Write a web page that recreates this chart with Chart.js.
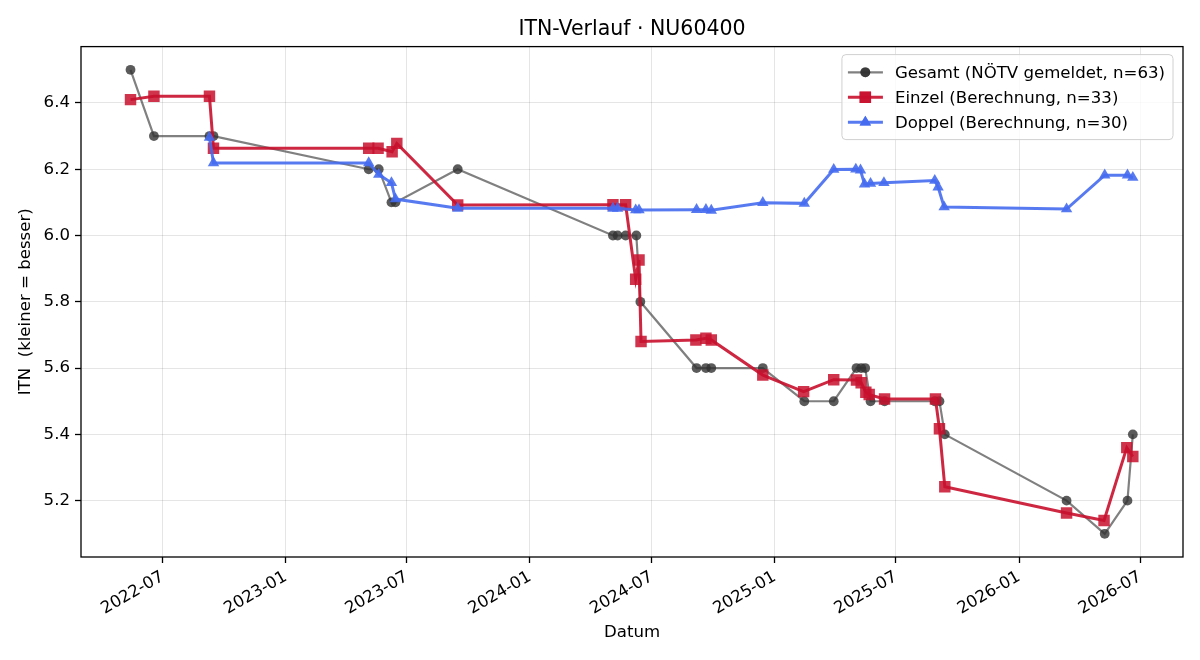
<!DOCTYPE html>
<html><head><meta charset="utf-8">
<script src="https://cdn.jsdelivr.net/npm/chart.js@4.4.1/dist/chart.umd.min.js"></script>
<style>html,body{margin:0;padding:0;background:#fff}</style>
</head><body>
<canvas id="c" width="1200" height="660"></canvas>
<script>
// ---------- data ----------
const chartTitle = 'ITN-Verlauf · NU60400';
const xAxisTitle = 'Datum';
const yAxisTitle = 'ITN  (kleiner = besser)';
const seriesNames = ['Gesamt (NÖTV gemeldet, n=63)', 'Einzel (Berechnung, n=33)', 'Doppel (Berechnung, n=30)'];
const xTickLabels = ['2022-07','2023-01','2023-07','2024-01','2024-07','2025-01','2025-07','2026-01','2026-07'];
const yTickValues = [5.2, 5.4, 5.6, 5.8, 6.0, 6.2, 6.4];
const xRange = ['2022-03-01', '2026-09-03'];
const yRange = [5.03, 6.57];

const gesamtDates = ['2022-05-14','2022-06-18','2022-09-09','2022-09-15','2023-05-05','2023-05-20','2023-06-08','2023-06-14','2023-09-15',
  '2024-05-04','2024-05-11','2024-05-23','2024-06-08','2024-06-14','2024-09-06','2024-09-20','2024-09-28','2024-12-14',
  '2025-02-14','2025-03-30','2025-05-03','2025-05-10','2025-05-16','2025-05-24','2025-06-14','2025-08-28','2025-09-04','2025-09-12',
  '2026-03-13','2026-05-09','2026-06-12','2026-06-20'];
const gesamtValues = [6.5,6.3,6.3,6.3,6.2,6.2,6.1,6.1,6.2,
  6.0,6.0,6.0,6.0,5.8,5.6,5.6,5.6,5.6,
  5.5,5.5,5.6,5.6,5.6,5.5,5.5,5.5,5.5,5.4,
  5.2,5.1,5.2,5.4];

const einzelDates = ['2022-05-14','2022-06-18','2022-09-09','2022-09-15','2023-05-05','2023-05-19','2023-06-09','2023-06-16','2023-09-15',
  '2024-05-04','2024-05-23','2024-06-07','2024-06-12','2024-06-15','2024-09-05','2024-09-20','2024-09-28','2024-12-14',
  '2025-02-13','2025-03-30','2025-05-03','2025-05-10','2025-05-17','2025-05-22','2025-06-14','2025-08-29','2025-09-04','2025-09-12',
  '2026-03-13','2026-05-08','2026-06-11','2026-06-20'];
const einzelValues = [6.41,6.42,6.42,6.263,6.263,6.263,6.253,6.278,6.092,
  6.093,6.093,5.868,5.926,5.68,5.685,5.69,5.685,5.579,
  5.529,5.565,5.564,5.556,5.527,5.52,5.507,5.507,5.417,5.242,
  5.163,5.14,5.36,5.333];

const doppelDates = ['2022-09-09','2022-09-15','2023-05-05','2023-05-20','2023-06-08','2023-06-14','2023-09-15',
  '2024-05-04','2024-05-11','2024-06-07','2024-06-12','2024-09-06','2024-09-20','2024-09-28','2024-12-14',
  '2025-02-14','2025-03-30','2025-05-02','2025-05-09','2025-05-15','2025-05-24','2025-06-13','2025-08-28','2025-09-02','2025-09-11',
  '2026-03-13','2026-05-09','2026-06-12','2026-06-20'];
const doppelValues = [6.296,6.219,6.219,6.184,6.159,6.11,6.082,
  6.082,6.082,6.077,6.077,6.078,6.078,6.076,6.099,
  6.097,6.199,6.2,6.197,6.155,6.157,6.159,6.166,6.146,6.086,
  6.08,6.182,6.182,6.175];

// ---------- helpers ----------
const toTime = s => Date.parse(s + 'T00:00:00Z');
const toPoints = (ds, vs) => ds.map((d, i) => ({x: toTime(d), y: vs[i]}));
const xTickValues = xTickLabels.map(s => { const [y, m] = s.split('-').map(Number); return Date.UTC(y, m - 1, 1); });

const FONT = 'DejaVu Sans';
const FS = 16.6;
Chart.defaults.font.family = FONT;
Chart.defaults.font.size = FS;
Chart.defaults.color = '#000';

const styles = [
  {line: 'rgba(60,60,60,0.65)', point: 'rgba(50,50,50,0.8)', width: 2.2, style: 'circle', radius: 4.9},
  {line: 'rgba(200,16,46,0.9)', point: 'rgba(200,16,46,0.85)', width: 3, style: 'rect', radius: 8.1},
  {line: 'rgba(70,108,240,0.9)', point: 'rgba(70,108,240,0.9)', width: 3, style: 'triangle', radius: 6.6}
];
const seriesData = [toPoints(gesamtDates, gesamtValues), toPoints(einzelDates, einzelValues), toPoints(doppelDates, doppelValues)];

const frameAndLegend = {
  id: 'frameAndLegend',
  afterDraw(chart) {
    const {ctx, chartArea: ca} = chart;
    ctx.save();
    ctx.strokeStyle = '#000';
    ctx.lineWidth = 1.3;
    ctx.strokeRect(ca.left, ca.top, ca.right - ca.left, ca.bottom - ca.top);
    // legend
    ctx.font = FS + 'px "' + FONT + '"';
    let w = 0;
    seriesNames.forEach(n => { w = Math.max(w, ctx.measureText(n).width); });
    const right = ca.right - 10, top = ca.top + 8;
    const left = right - (w + 53 + 8);
    const h = 85;
    const r = 4;
    ctx.beginPath();
    ctx.moveTo(left + r, top);
    ctx.lineTo(right - r, top); ctx.quadraticCurveTo(right, top, right, top + r);
    ctx.lineTo(right, top + h - r); ctx.quadraticCurveTo(right, top + h, right - r, top + h);
    ctx.lineTo(left + r, top + h); ctx.quadraticCurveTo(left, top + h, left, top + h - r);
    ctx.lineTo(left, top + r); ctx.quadraticCurveTo(left, top, left + r, top);
    ctx.closePath();
    ctx.fillStyle = 'rgba(255,255,255,0.8)';
    ctx.fill();
    ctx.strokeStyle = '#d0d0d0';
    ctx.lineWidth = 1;
    ctx.stroke();
    seriesNames.forEach((n, i) => {
      const y = top + 17.7 + i * 25;
      const s = styles[i];
      ctx.strokeStyle = s.line;
      ctx.lineWidth = s.width;
      ctx.beginPath(); ctx.moveTo(left + 6, y); ctx.lineTo(left + 41, y); ctx.stroke();
      ctx.fillStyle = s.point;
      Chart.helpers.drawPoint(ctx, {pointStyle: s.style, radius: s.radius, borderWidth: 0}, left + 23.4, y);
      ctx.fill();
      ctx.fillStyle = '#000';
      ctx.textBaseline = 'middle';
      ctx.textAlign = 'left';
      ctx.fillText(n, left + 53, y + 1);
    });
    ctx.restore();
  }
};

new Chart(document.getElementById('c'), {
  type: 'line',
  data: {
    datasets: seriesData.map((d, i) => ({
      label: seriesNames[i],
      data: d,
      borderColor: styles[i].line,
      backgroundColor: styles[i].point,
      borderWidth: styles[i].width,
      pointStyle: styles[i].style,
      pointRadius: styles[i].radius,
      pointBorderWidth: 0,
      pointBackgroundColor: styles[i].point,
      pointHoverRadius: styles[i].radius,
      tension: 0,
      fill: false,
      order: 3 - i
    }))
  },
  options: {
    responsive: false,
    animation: false,
    devicePixelRatio: 1,
    layout: {padding: {left: 0, right: 17, top: 0, bottom: 0}},
    plugins: {
      legend: {display: false},
      tooltip: {enabled: false},
      title: {display: true, text: chartTitle, fullSize: false, font: {size: 20.5, weight: 'normal'}, color: '#000', padding: {top: 17, bottom: 5}}
    },
    scales: {
      x: {
        type: 'linear',
        min: toTime(xRange[0]), max: toTime(xRange[1]),
        afterBuildTicks: s => { s.ticks = xTickValues.map(v => ({value: v})); },
        afterFit: s => { s.height = 103; },
        ticks: {autoSkip: false, minRotation: 30, maxRotation: 30, padding: 4, color: '#000',
          callback: (v, i) => xTickLabels[i]},
        grid: {color: 'rgba(0,0,0,0.1)', lineWidth: 1, tickColor: '#000', tickLength: 6, tickWidth: 1.3, drawTicks: true},
        border: {display: false},
        title: {display: true, text: xAxisTitle, color: '#000', padding: {top: 4, bottom: 17}}
      },
      y: {
        type: 'linear',
        min: yRange[0], max: yRange[1],
        afterBuildTicks: s => { s.ticks = yTickValues.map(v => ({value: v})); },
        afterFit: s => { s.width = 81; },
        ticks: {padding: 5, color: '#000', callback: v => Number(v).toFixed(1)},
        grid: {color: 'rgba(0,0,0,0.1)', lineWidth: 1, tickColor: '#000', tickLength: 6, tickWidth: 1.3, drawTicks: true},
        border: {display: false},
        title: {display: true, text: yAxisTitle, color: '#000', padding: {top: 16, bottom: 4}}
      }
    }
  },
  plugins: [frameAndLegend]
});
</script>
</body></html>
